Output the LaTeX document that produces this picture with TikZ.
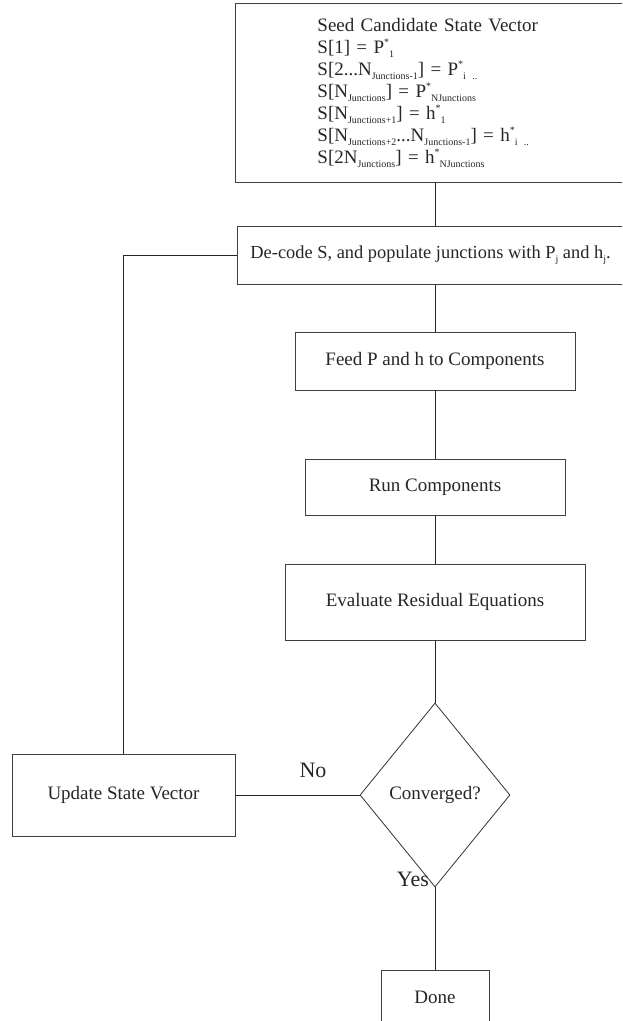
\documentclass[tikz,border=0pt]{standalone}
\usepackage{fontspec}
\setmainfont{Liberation Serif}
\usetikzlibrary{shapes.geometric}
% small lowered / raised indices in the text face
\newcommand\lowix[1]{\raisebox{-0.45ex}{\fontsize{10}{10}\selectfont #1}}
\newcommand\highix[1]{\raisebox{0.95ex}{\fontsize{10}{10}\selectfont #1}}
\newcommand\tightskip{\lineskiplimit=-100pt\relax}
\begin{document}
\begin{tikzpicture}[x=1pt,y=-1pt,
  every node/.style={font=\fontsize{19}{22}\selectfont\tightskip, text=black!85},
  box/.style={draw=black!75, line width=0.9pt, rectangle, inner sep=0pt},
  decision/.style={draw=black!80, line width=0.8pt, diamond, inner sep=0pt},
  link/.style={draw=black!85, line width=0.9pt},
  branch/.style={font=\fontsize{22}{24}\selectfont}]
\useasboundingbox (0,0) rectangle (622,1021);
\clip (0,0) rectangle (622,1021);

% process boxes (the top two run past the right margin)
\node[box, anchor=north west, inner xsep=82pt, text width=260pt, minimum height=179pt, align=left] (seed) at (235,3)
  {Seed Candidate State Vector\\
   S[1] = P\highix{*}\lowix{1}\\
   S[2...N\lowix{Junctions-1}] = P\highix{*}\lowix{i ..}\\
   S[N\lowix{Junctions}] = P\highix{*}\lowix{NJunctions}\\
   S[N\lowix{Junctions+1}] = h\highix{*}\lowix{1}\\
   S[N\lowix{Junctions+2}...N\lowix{Junctions-1}] = h\highix{*}\lowix{i ..}\\
   S[2N\lowix{Junctions}] = h\highix{*}\lowix{NJunctions}};
\node[box, anchor=north west, inner xsep=13pt, minimum height=58pt,
      font=\fontsize{18.4}{22}\selectfont] (decode) at (237,226)
  {\makebox[400pt][l]{De-code S, and populate junctions with P\lowix{j} and h\lowix{j}.}};
\node[box, minimum width=280pt, minimum height=58pt] (feed) at (435,361) {Feed P and h to Components};
\node[box, minimum width=260pt, minimum height=56pt] (run) at (435,487) {Run Components};
\node[box, minimum width=300pt, minimum height=76pt] (eval) at (435,602) {Evaluate Residual Equations};
\node[decision, minimum width=150pt, minimum height=184pt] (conv) at (435,795) {Converged?};
\node[box, minimum width=223pt, minimum height=82pt] (update) at (123.5,795) {Update State Vector};
\node[box, minimum width=108pt, minimum height=54pt] (done) at (435,997) {Done};

% connectors
\draw[link] (feed.north |- seed.south) -- (feed.north |- decode.north);
\draw[link] (feed.north |- decode.south) -- (feed.north);
\draw[link] (feed.south) -- (run.north);
\draw[link] (run.south) -- (eval.north);
\draw[link] (eval.south) -- (conv.north);
\draw[link] (conv.west) -- (update.east);
\draw[link] (conv.south) -- (done.north);
\draw[link] (update.north) -- (update.north |- decode.west) -- (decode.west);

% branch labels
\node[branch] (no) at (313,770) {No};
\node[branch] (yes) at (413,879) {Yes};
\end{tikzpicture}
\end{document}
